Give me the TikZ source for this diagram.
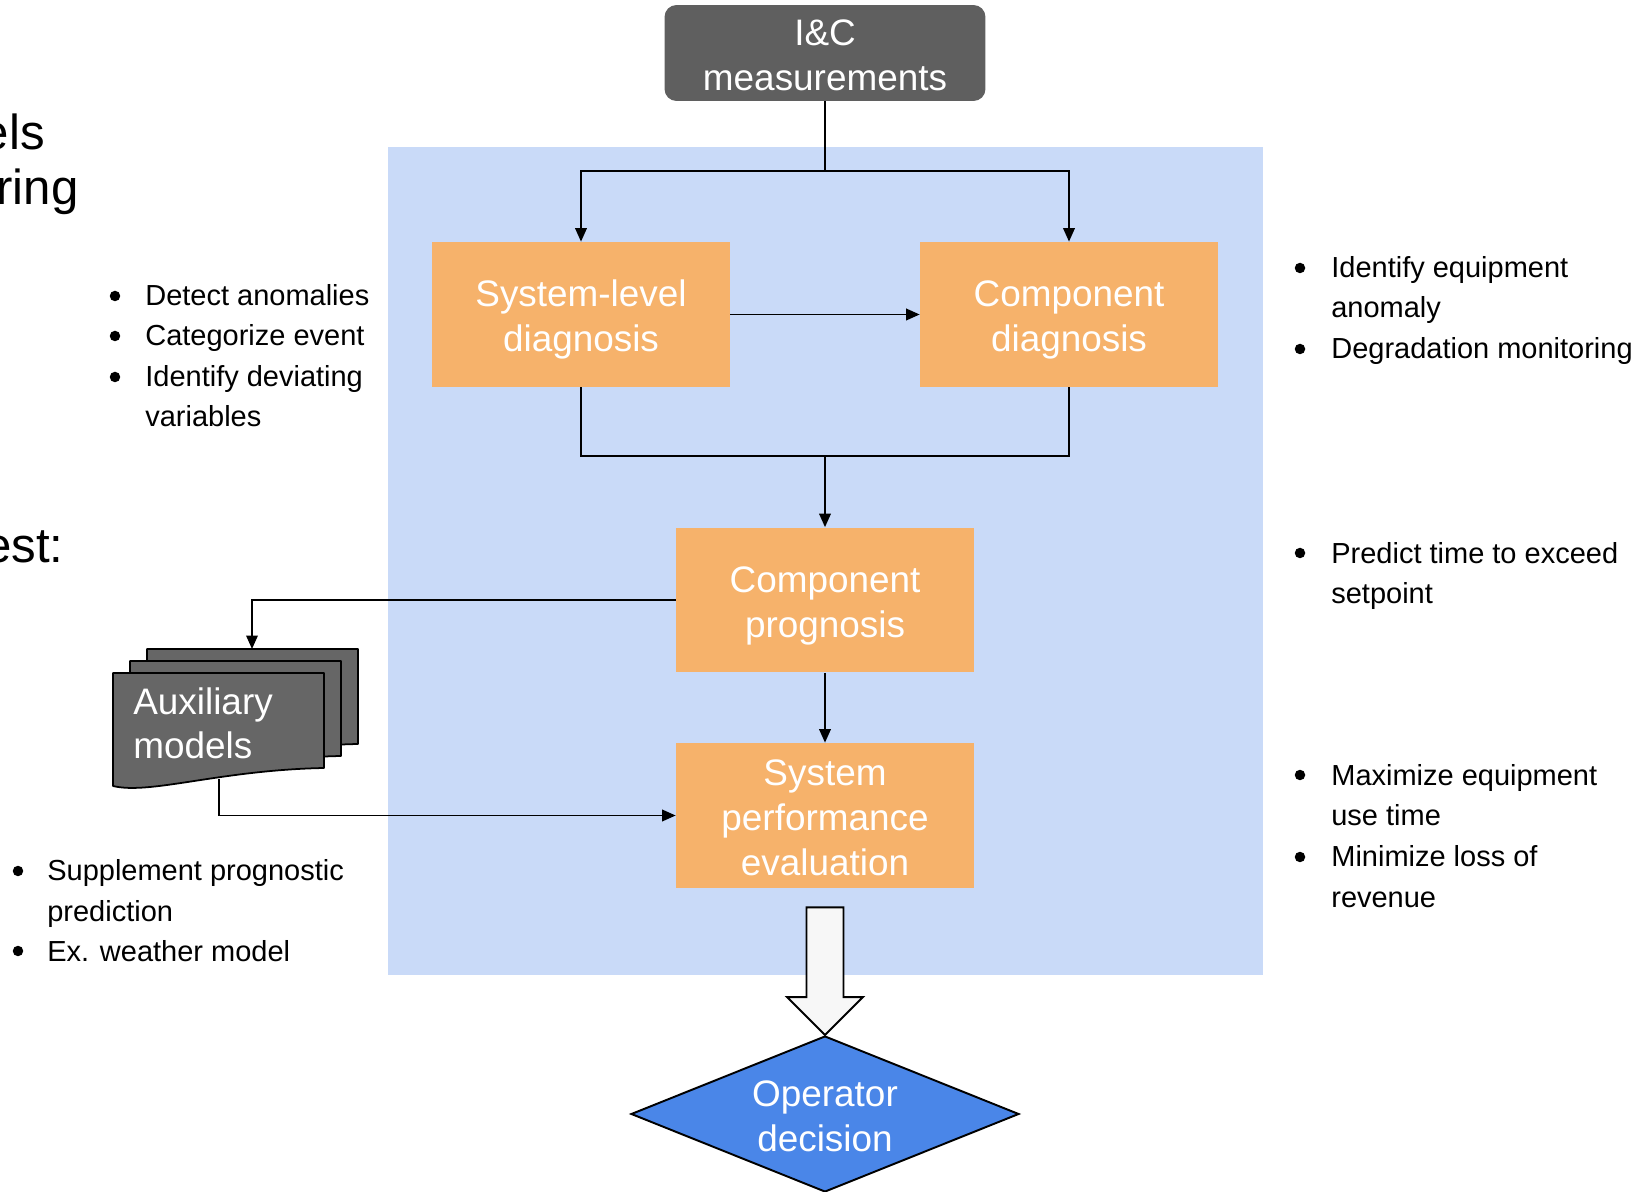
\documentclass[tikz,border=0pt]{standalone}
\usepackage{fontspec}
\setmainfont{Liberation Sans}
\usetikzlibrary{arrows.meta,shapes.geometric,calc}
\definecolor{panelblue}{HTML}{C9DAF8}
\definecolor{boxorange}{HTML}{F6B26B}
\definecolor{darkbox}{HTML}{5F5F5F}
\definecolor{auxgray}{HTML}{666666}
\definecolor{decblue}{HTML}{4A86E8}
\definecolor{arrowfill}{HTML}{F7F7F7}
% a taller first line pushes a centred text block a little downwards
\newcommand{\tallfirst}[1]{\rule{0pt}{#1}}

\begin{document}
\begin{tikzpicture}[x=0.02cm,y=-0.02cm,
  boxfont/.style={font=\fontsize{21pt}{25.6pt}\selectfont},
  bulletfont/.style={font=\fontsize{16.5pt}{23.1pt}\selectfont},
  stage/.style={rectangle, fill=boxorange, text=white, boxfont, align=center,
    minimum width=5.96cm, minimum height=2.9cm, inner sep=0},
  conn/.style={line width=1.1pt, draw=black},
  arr/.style={conn, -{Triangle[length=0.27cm,width=0.23cm]}},
  % multi-line notes are placed by the baseline of their last line
  note/.style={bulletfont, anchor=base west, align=left, inner sep=0},
  headline/.style={font=\fontsize{28pt}{34pt}\selectfont, anchor=base east, inner sep=0},
  sheet/.style={fill=auxgray, draw=black, line width=1pt, line join=round},
  bigarrow/.style={fill=arrowfill, draw=black, line width=1.1pt, line join=miter},
]
\useasboundingbox (0,0) rectangle (1634,1192);
\clip (0,0) rectangle (1634,1192);

% background panel of the monitoring loop
\fill[panelblue] (388,147) rectangle (1263,975);

% headings running off the left edge
\node[headline] (h1) at (45,150) {els};
\node[headline] (h2) at (79,205) {ring};
\node[headline] (h3) at (64,563) {est:};

% main nodes
\node[fill=darkbox, rounded corners=0.24cm, text=white, boxfont, align=center,
  minimum width=6.42cm, minimum height=1.92cm, inner sep=0] (ic) at (825,53)
  {\tallfirst{0.62cm}I\&C\\measurements};
\node[stage] (sysdiag) at (581,314.5) {\tallfirst{0.74cm}System-level\\diagnosis};
\node[stage] (compdiag) at (1069,314.5) {\tallfirst{0.74cm}Component\\diagnosis};
\node[stage] (compprog) at (825,600) {\tallfirst{0.74cm}Component\\prognosis};
\node[stage] (sysperf) at (825,815.5) {\tallfirst{0.6cm}System\\performance\\evaluation};
\node[diamond, shape aspect=2.49, fill=decblue, draw=black, line width=1.1pt,
  text=white, boxfont, align=center, minimum width=7.76cm, minimum height=3.12cm,
  inner sep=0] (op) at (825,1114) {\tallfirst{0.62cm}Operator\\decision};

% stack of auxiliary model documents
\foreach \dx/\dy in {34/-24, 17/-12, 0/0}
  \draw[sheet, shift={(\dx,\dy)}] (113,673) -- (324,673) -- (324,768)
    .. controls (220,770) and (150,795) .. (113,786) -- cycle;
\node[text=white, boxfont, align=left, anchor=base west, inner sep=0] (aux) at (133,759) {Auxiliary\\models};
\coordinate (auxin) at (252,649);
\coordinate (auxout) at (219,779);

% connectors
\draw[conn] (ic.south) -- ++(0,70) coordinate (fork);
\draw[arr] (fork) -| (sysdiag.north);
\draw[arr] (fork) -| (compdiag.north);
\draw[arr] (sysdiag.east) -- (compdiag.west);
\coordinate (join) at (825,456);
\draw[conn] (sysdiag.south) |- (join) -| (compdiag.south);
\draw[arr] (join) -- (compprog.north);
\draw[arr] (compprog.west) -| (auxin);
\draw[arr] (auxout) |- (sysperf.west);
\draw[arr] (compprog.south) -- (sysperf.north);

% hollow block arrow towards the decision
\draw[bigarrow] ($(sysperf.south)+(-18.5,19)$) -- ($(sysperf.south)+(18.5,19)$)
  -- ($(op.north)+(18.5,-38)$) -- ($(op.north)+(38,-38)$) -- (op.north)
  -- ($(op.north)+(-38,-38)$) -- ($(op.north)+(-18.5,-38)$) -- cycle;

% bullet marks
\foreach \bx/\by in {115/296, 115/336, 115/377, 18/871, 18/951,
    1300/268, 1300/349, 1300/553, 1300/775, 1300/857}
  \fill (\bx,\by) circle[radius=0.105cm];

% bullet texts
\node[note] (l1) at (145,306) {Detect anomalies};
\node[note] (l2) at (145,346) {Categorize event};
\node[note] (l3) at (145,427) {Identify deviating\\variables};
\node[note] (l4) at (47,921) {Supplement prognostic\\prediction};
\node[note] (l5) at (47,961) {Ex. weather model};
\node[note] (r1) at (1331,318) {Identify equipment\\anomaly};
\node[note] (r2) at (1331,359) {Degradation monitoring};
\node[note] (r3) at (1331,604) {Predict time to exceed\\setpoint};
\node[note] (r4) at (1331,826) {Maximize equipment\\use time};
\node[note] (r5) at (1331,907) {Minimize loss of\\revenue};
\end{tikzpicture}
\end{document}
